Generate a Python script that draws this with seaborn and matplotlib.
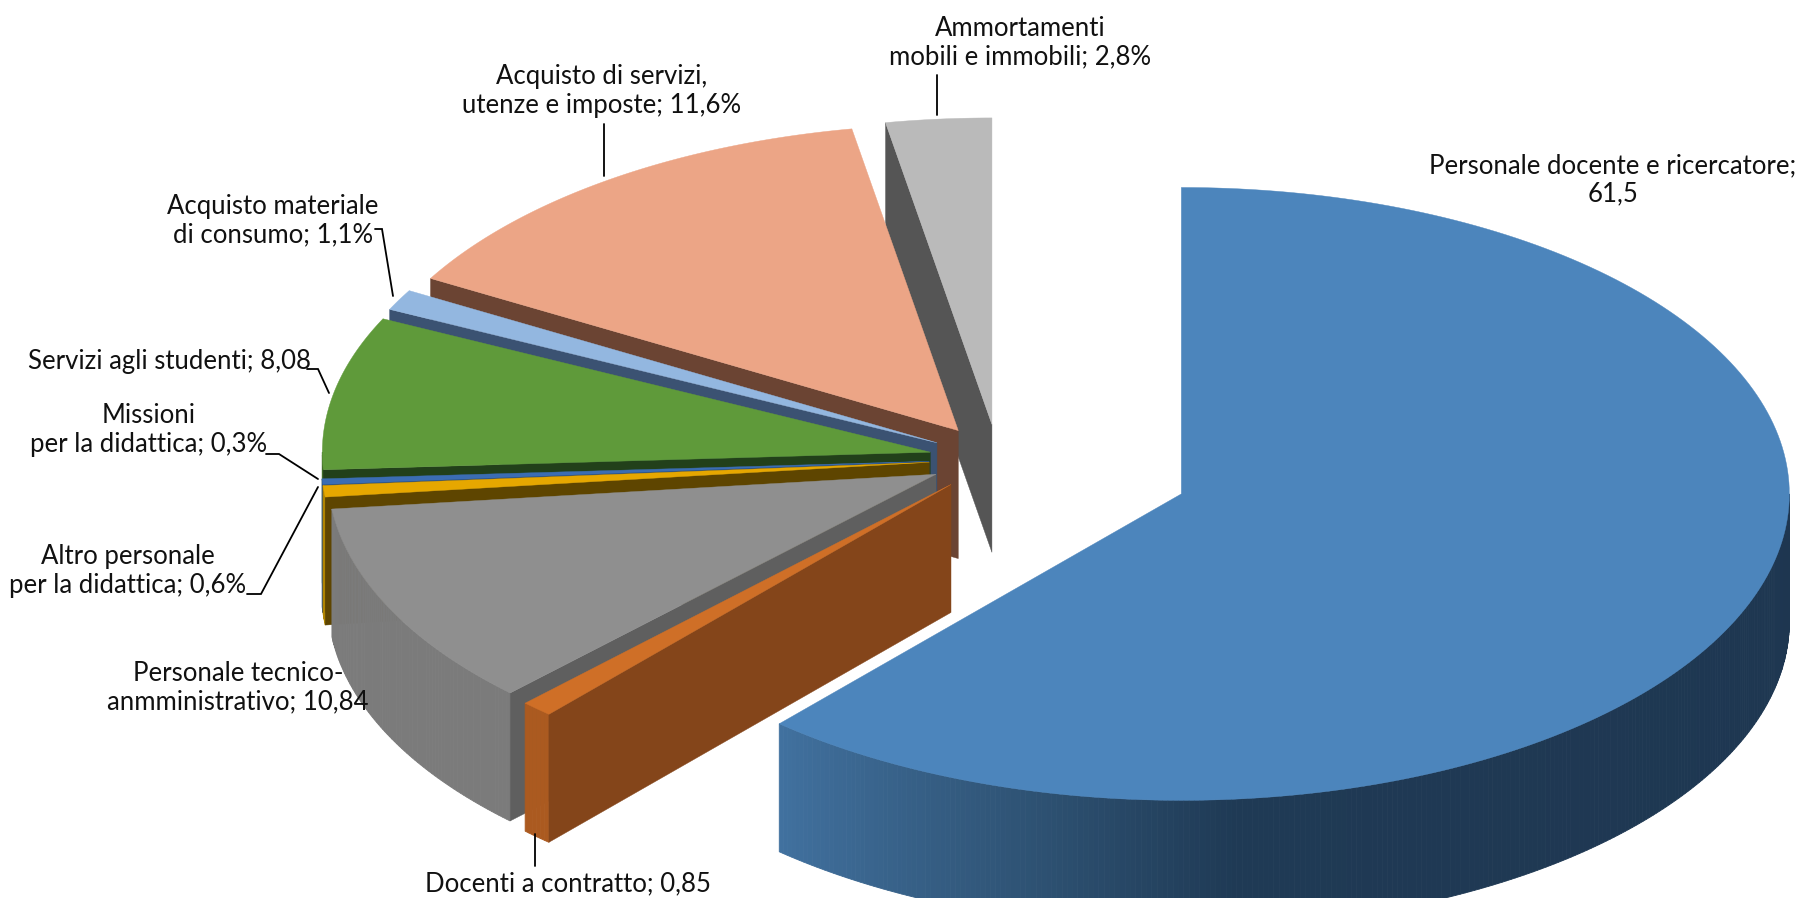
import numpy as np
import matplotlib
matplotlib.use("Agg")
import matplotlib.pyplot as plt
import matplotlib.colors as mcolors
import seaborn as sns

# Categories in drawing order, clockwise from 12 o'clock
categories = ["Personale docente e ricercatore", "Docenti a contratto",
              "Personale tecnico-anmministrativo", "Altro personale per la didattica",
              "Missioni per la didattica", "Servizi agli studenti",
              "Acquisto materiale di consumo", "Acquisto di servizi, utenze e imposte",
              "Ammortamenti mobili e immobili"]
# share of the circle as drawn (the services slice is drawn larger than its label says)
shares = [61.5, 0.85, 10.84, 0.6, 0.3, 8.08, 1.1, 13.93, 2.8]
label_texts = ["Personale docente e ricercatore;\n61,5", "Docenti a contratto; 0,85",
               "Personale tecnico-\nanmministrativo; 10,84", "Altro personale\nper la didattica; 0,6%",
               "Missioni\nper la didattica; 0,3%", "Servizi agli studenti; 8,08",
               "Acquisto materiale\ndi consumo; 1,1%", "Acquisto di servizi,\nutenze e imposte; 11,6%",
               "Ammortamenti\nmobili e immobili; 2,8%"]

top_colors = ["#4c85bc", "#cf6f27", "#8f8f8f", "#e6a700", "#3b6db3", "#5f9a3a", "#93b7e0", "#eca586", "#bababa"]
wall_colors = ["#1e3650", "#84451a", "#5f5f5f", "#5e4500", "#24406a", "#22401a", "#3b5272", "#6b4433", "#555555"]
rim_colors = ["#1e3650", "#ab5a20", "#7b7b7b", "#b08400", "#2b5288", "#3f6a28", "#5a7ba5", "#a06a50", "#808080"]

# Layout of the 3D pie, in pixels
CX, CY = 998, 459
RX, SQUASH = 608, 0.504
DEPTH = 128
EXPLODE = [196, 69, 69, 69, 69, 69, 69, 69, 69]

# blue rim shading: angle (degrees clockwise from top) -> colour
BLUE_RIM = [(90, "#1e3650"), (175, "#1f3a55"), (194, "#2e5273"), (221.4, "#41719f")]

LABEL_POS = [(1613, 180), (568, 884), (238, 688), (128, 571), (149, 430), (170, 362),
             (273, 221), (602, 91), (1020, 43)]
LEADERS = [[(937, 75), (937, 115)], [(604, 124), (604, 176)],
           [(375, 229), (382, 229), (393, 296)],
           [(307, 369), (318, 369), (329, 393)],
           [(266, 454), (279, 454), (318, 479)],
           [(247, 594), (261, 594), (318, 487)],
           [(535, 834), (535, 866)]]


def xy(center, ang):
    # point on the top ellipse for angle in degrees, clockwise from top
    a = np.radians(ang)
    return center[0] + RX * np.sin(a), center[1] - RX * SQUASH * np.cos(a)


def blue_rim_color(ang):
    angs = [s[0] for s in BLUE_RIM]
    rgb = np.array([mcolors.to_rgb(s[1]) for s in BLUE_RIM])
    return tuple(np.interp(ang, angs, rgb[:, i]) for i in range(3))


def draw_slice(ax, i, start, end):
    mid = np.radians((start + end) / 2)
    c = (CX + EXPLODE[i] * np.sin(mid), CY - EXPLODE[i] * SQUASH * np.cos(mid))

    # rim wall, only the part facing the viewer
    lo, hi = max(start, 90), min(end, 270)
    if hi > lo:
        steps = np.linspace(lo, hi, max(int(hi - lo) * 2, 2) + 1)
        for a0, a1 in zip(steps[:-1], steps[1:]):
            x0, y0 = xy(c, a0)
            x1, y1 = xy(c, a1)
            col = blue_rim_color((a0 + a1) / 2) if i == 0 else rim_colors[i]
            ax.fill([x0, x1, x1, x0], [y0, y1, y1 + DEPTH, y0 + DEPTH], color=col, lw=0.6, zorder=i * 3)

    # side wall of the start edge, only on the left half
    if start > 180:
        x0, y0 = xy(c, start)
        ax.fill([c[0], x0, x0, c[0]], [c[1], y0, y0 + DEPTH, c[1] + DEPTH],
                color=wall_colors[i], lw=0.3, zorder=i * 3 + 1)

    # top face
    angs = np.linspace(start, end, 200)
    px, py = xy(c, angs)
    ax.fill(np.r_[c[0], px], np.r_[c[1], py], color=top_colors[i], lw=0.3, zorder=i * 3 + 2)


sns.set_theme(style="white")
plt.rcParams["font.family"] = ["Lato", "DejaVu Sans"]

fig = plt.figure(figsize=(17.98, 8.98), dpi=100)
ax = fig.add_axes([0, 0, 1, 1])
ax.set_xlim(0, 1798)
ax.set_ylim(898, 0)
ax.axis("off")

edges = np.r_[0, np.cumsum(shares)] * 3.6

# back to front: depth order runs from the last slice to the first small one, main slice on top
order = [8, 7, 6, 5, 4, 3, 2, 1, 0]
for rank, i in enumerate(order):
    start, end = edges[i], edges[i + 1]
    # zorder comes from rank, so reuse draw_slice on a temporary index
    n = len(ax.patches)
    draw_slice(ax, i, start, end)
    for p in ax.patches[n:]:
        p.set_zorder(rank + p.get_zorder() * 0.001)

for pos, txt in zip(LABEL_POS, label_texts):
    ax.text(pos[0], pos[1], txt, ha="center", va="center", fontsize=18.5,
            color="#111111", linespacing=1.18, zorder=30)

for line in LEADERS:
    ax.plot([p[0] for p in line], [p[1] for p in line], color="black", lw=1.3, zorder=29,
            solid_joinstyle="miter")

fig.savefig("out.png", dpi=100, facecolor="white")
